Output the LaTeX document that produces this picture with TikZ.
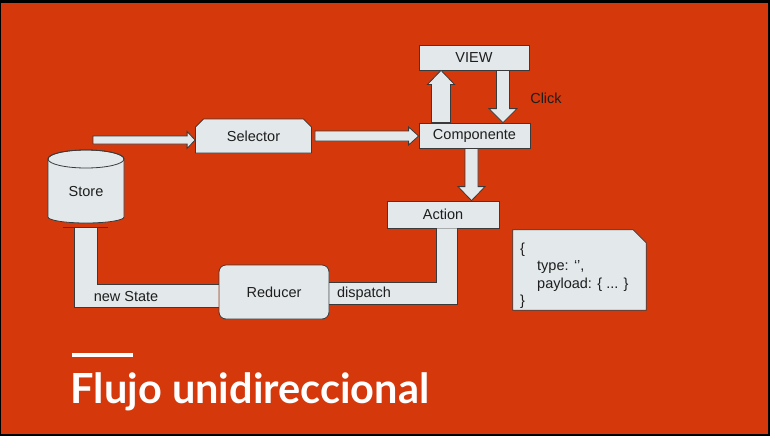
\documentclass[tikz,border=0pt]{standalone}
\usepackage{fontspec}
\setmainfont{Liberation Sans}
\newfontfamily\titlefont{Lato}
\usetikzlibrary{calc,shapes.misc}
\definecolor{slide}{HTML}{D4380B}
\definecolor{boxfill}{HTML}{E3E8EA}
\definecolor{edge}{HTML}{3A3A3A}
\definecolor{ink}{HTML}{1E1E1E}

\tikzset{
  diagfont/.style={font=\fontsize{14.5}{17}\selectfont},
  box/.style={draw=edge, fill=boxfill, line width=0.8pt, text=ink, diagfont, inner sep=0pt},
  lbl/.style={text=ink, diagfont, inner sep=0pt},
  pipefill/.style={fill=boxfill},
  pipeedge/.style={draw=edge, line width=0.8pt},
  arrowbox/.style={draw=edge, fill=boxfill, line width=0.8pt, line join=miter},
}

% block arrow: start, end, half shaft width, half head width, head length
\newcommand{\blockarrow}[5]{%
  \coordinate (hb) at ($(#2)!#5!(#1)$);
  \draw[arrowbox] ($(#1)!#3!90:(#2)$) -- ($(hb)!#3!90:(#2)$) -- ($(hb)!#4!90:(#2)$)
    -- (#2) -- ($(hb)!#4!-90:(#2)$) -- ($(hb)!#3!-90:(#2)$) -- ($(#1)!#3!-90:(#2)$) -- cycle;
}

\begin{document}
\begin{tikzpicture}[x=1pt,y=1pt]
  % slide background with its dark frame
  \fill[black] (0,0) rectangle (770,-436);
  \fill[slide] (1,-3) rectangle (768,-434);
  \useasboundingbox (0,0) rectangle (770,-436);

  % boxes
  \node[box, minimum width=110pt, minimum height=25pt] (view) at (474,-57.5) {VIEW};
  \node[box, minimum width=111pt, minimum height=25pt] (comp) at (474.5,-135.5) {Componente};
  \node[box, minimum width=112pt, minimum height=27pt] (act) at (443,-214.5) {Action};
  \node[box, chamfered rectangle, chamfered rectangle corners={north west,north east},
        chamfered rectangle xsep=4pt, chamfered rectangle ysep=4pt,
        minimum width=116pt, minimum height=34pt] (sel) at (253.5,-136) {Selector};
  \node[box, rounded corners=7pt, minimum width=110pt, minimum height=54pt] (red) at (274,-292) {Reducer};

  % store cylinder
  \path[box] (48,-159) -- (48,-217) arc (180:360:38 and 6) -- (124,-159) arc (0:180:38 and 9) -- cycle;
  \draw[pipeedge] (86,-159) ellipse (38 and 9);
  \node[lbl] (store) at (86,-192) {Store};
  \coordinate (base) at (86,-227);

  % new State pipe from the store into the reducer
  \coordinate (p1) at ($(base)+(-12,0)$);
  \coordinate (p2) at ($(base)+(11,0)$);
  \coordinate (p3) at ($(red.west)+(0,8)$);
  \coordinate (p4) at ($(red.west)+(0,-15)$);
  \fill[pipefill] (p1) -- (p1 |- p4) -- (p4) -- (p3) -- (p2 |- p3) -- (p2) -- cycle;
  \draw[pipeedge] (p1) -- (p1 |- p4) -- (p4);
  \draw[pipeedge] (p2) -- (p2 |- p3) -- (p3);
  \draw[pipeedge] ($(base)+(-23,0)$) -- ($(base)+(22,0)$);
  \node[lbl] (ns) at (126,-297) {new State};

  % dispatch pipe from the action into the reducer
  \coordinate (q1) at ($(act.south)+(-7,0)$);
  \coordinate (q2) at ($(act.south)+(14,0)$);
  \coordinate (q3) at ($(red.east)+(0,10)$);
  \coordinate (q4) at ($(red.east)+(0,-12)$);
  \fill[pipefill] (q1) -- (q1 |- q3) -- (q3) -- (q4) -- (q2 |- q4) -- (q2) -- cycle;
  \draw[pipeedge] (q1) -- (q1 |- q3) -- (q3);
  \draw[pipeedge] (q2) -- (q2 |- q4) -- (q4);
  \node[lbl] (dp) at (364,-294) {dispatch};

  % block arrows
  \coordinate (s0) at (93,-140);
  \coordinate (s1) at (sel.west |- s0);
  \blockarrow{s0}{s1}{4pt}{8.5pt}{8pt}

  \coordinate (c0) at ($(sel.east)+(3,0)$);
  \coordinate (c1) at (comp.west |- c0);
  \blockarrow{c0}{c1}{5pt}{9pt}{10pt}

  \coordinate (u0) at ($(comp.north)+(-33.5,0)$);
  \coordinate (u1) at (u0 |- view.south);
  \blockarrow{u0}{u1}{9.5pt}{13.5pt}{14pt}

  \coordinate (d0) at ($(view.south)+(29,0)$);
  \coordinate (d1) at (d0 |- comp.north);
  \blockarrow{d0}{d1}{6.5pt}{14pt}{14pt}

  \coordinate (a0) at ($(comp.south)+(-3,0)$);
  \coordinate (a1) at (a0 |- act.north);
  \blockarrow{a0}{a1}{6.5pt}{13.5pt}{14pt}

  \node[lbl] (click) at (546,-98) {Click};

  % action payload note with a clipped top right corner
  \node[minimum width=133pt, minimum height=80pt, inner sep=0pt] (json) at (579.5,-270) {};
  \draw[box] (json.south west) -- (json.north west) -- ($(json.north east)+(-13,0)$)
    -- ($(json.north east)+(0,-13)$) -- (json.south east) -- cycle;
  \node[lbl, anchor=base west] (j1) at (520,-253) {\{};
  \node[lbl, anchor=base west] (j2) at (537,-270.5) {type: ‘’,};
  \node[lbl, anchor=base west] (j3) at (537,-288) {payload: \{ ... \}};
  \node[lbl, anchor=base west] (j4) at (520,-305) {\}};

  % title
  \draw[white, line width=4pt] (72,-355) -- (133,-355);
  \node[anchor=base west, inner sep=0pt, text=white,
        font=\titlefont\bfseries\fontsize{41.5}{50}\selectfont] (title) at (70.5,-403) {Flujo unidireccional};
\end{tikzpicture}
\end{document}
